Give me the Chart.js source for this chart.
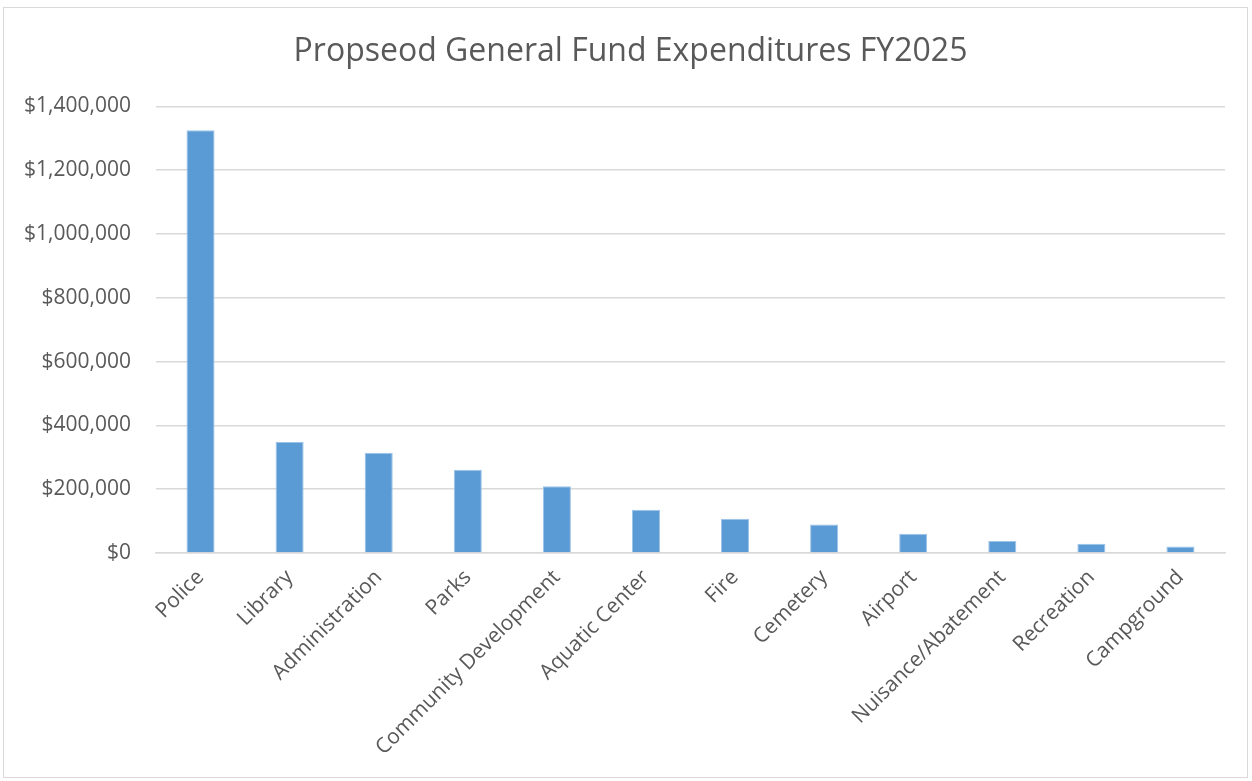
<!DOCTYPE html>
<html lang="en">
<head>
    <meta charset="UTF-8">
    <title>Propseod General Fund Expenditures FY2025</title>
    <script src="https://cdn.jsdelivr.net/npm/chart.js"></script>
    <style>
        body { margin: 0; background: #fff; }
        #wrap { position: relative; width: 1252px; height: 781px; }
    </style>
</head>
<body>
    <div id="wrap"><canvas id="fundChart" width="1252" height="781"></canvas></div>

    <script>
        // Departments and proposed amounts
        const departments = ['Police', 'Library', 'Administration', 'Parks', 'Community Development',
            'Aquatic Center', 'Fire', 'Cemetery', 'Airport', 'Nuisance/Abatement', 'Recreation', 'Campground'];
        const expenditures = [1325000, 348000, 314000, 261000, 209000, 135500, 107000, 89000, 60500, 37600, 29000, 20000];
        const yTicks = [0, 200000, 400000, 600000, 800000, 1000000, 1200000, 1400000];

        const textColor = '#595959';
        const gridColor = '#d9d9d9';

        // thin frame around the whole chart like the office chart border
        const framePlugin = {
            id: 'frame',
            beforeDraw(chart) {
                const c = chart.ctx;
                c.save();
                c.fillStyle = '#fff';
                c.fillRect(0, 0, chart.width, chart.height);
                c.strokeStyle = gridColor;
                c.lineWidth = 1;
                c.strokeRect(3.5, 7.5, 1244, 770);
                c.restore();
            }
        };

        const ctx = document.getElementById('fundChart').getContext('2d');
        new Chart(ctx, {
            type: 'bar',
            data: {
                labels: departments,
                datasets: [{
                    label: 'Expenditures',
                    data: expenditures,
                    backgroundColor: '#5b9bd5',
                    borderColor: '#9dc3e6',
                    borderWidth: 1,
                    categoryPercentage: 1,
                    barPercentage: 0.315
                }]
            },
            options: {
                responsive: false,
                animation: false,
                layout: { padding: { left: 18, right: 9, top: 0, bottom: 0 } },
                plugins: {
                    legend: { display: false },
                    tooltip: { enabled: false },
                    title: {
                        display: true,
                        text: 'Propseod General Fund Expenditures FY2025',
                        color: textColor,
                        font: { family: 'Open Sans', size: 32, weight: 'normal' },
                        padding: { top: 33, bottom: 35 }
                    }
                },
                scales: {
                    x: {
                        grid: { display: false },
                        border: { color: gridColor, width: 1.5 },
                        ticks: {
                            color: textColor,
                            font: { family: 'Open Sans', size: 21 },
                            minRotation: 45,
                            maxRotation: 45,
                            padding: 4
                        },
                        afterFit(scale) { scale.height = 228; }
                    },
                    y: {
                        min: 0,
                        max: 1400000,
                        afterBuildTicks(scale) { scale.ticks = yTicks.map(v => ({ value: v })); },
                        grid: { color: gridColor, lineWidth: 1.5, drawTicks: false },
                        border: { display: false },
                        ticks: {
                            color: textColor,
                            font: { family: 'Open Sans', size: 21 },
                            padding: 25,
                            callback: v => '$' + v.toLocaleString('en-US')
                        },
                        afterFit(scale) { scale.width = 138; }
                    },
                    // empty spacer on the right so the plot ends where the original does
                    spacer: {
                        type: 'linear',
                        position: 'right',
                        grid: { display: false },
                        border: { display: false },
                        ticks: { display: false },
                        afterFit(scale) { scale.width = 18; }
                    }
                }
            },
            plugins: [framePlugin]
        });
    </script>
</body>
</html>
